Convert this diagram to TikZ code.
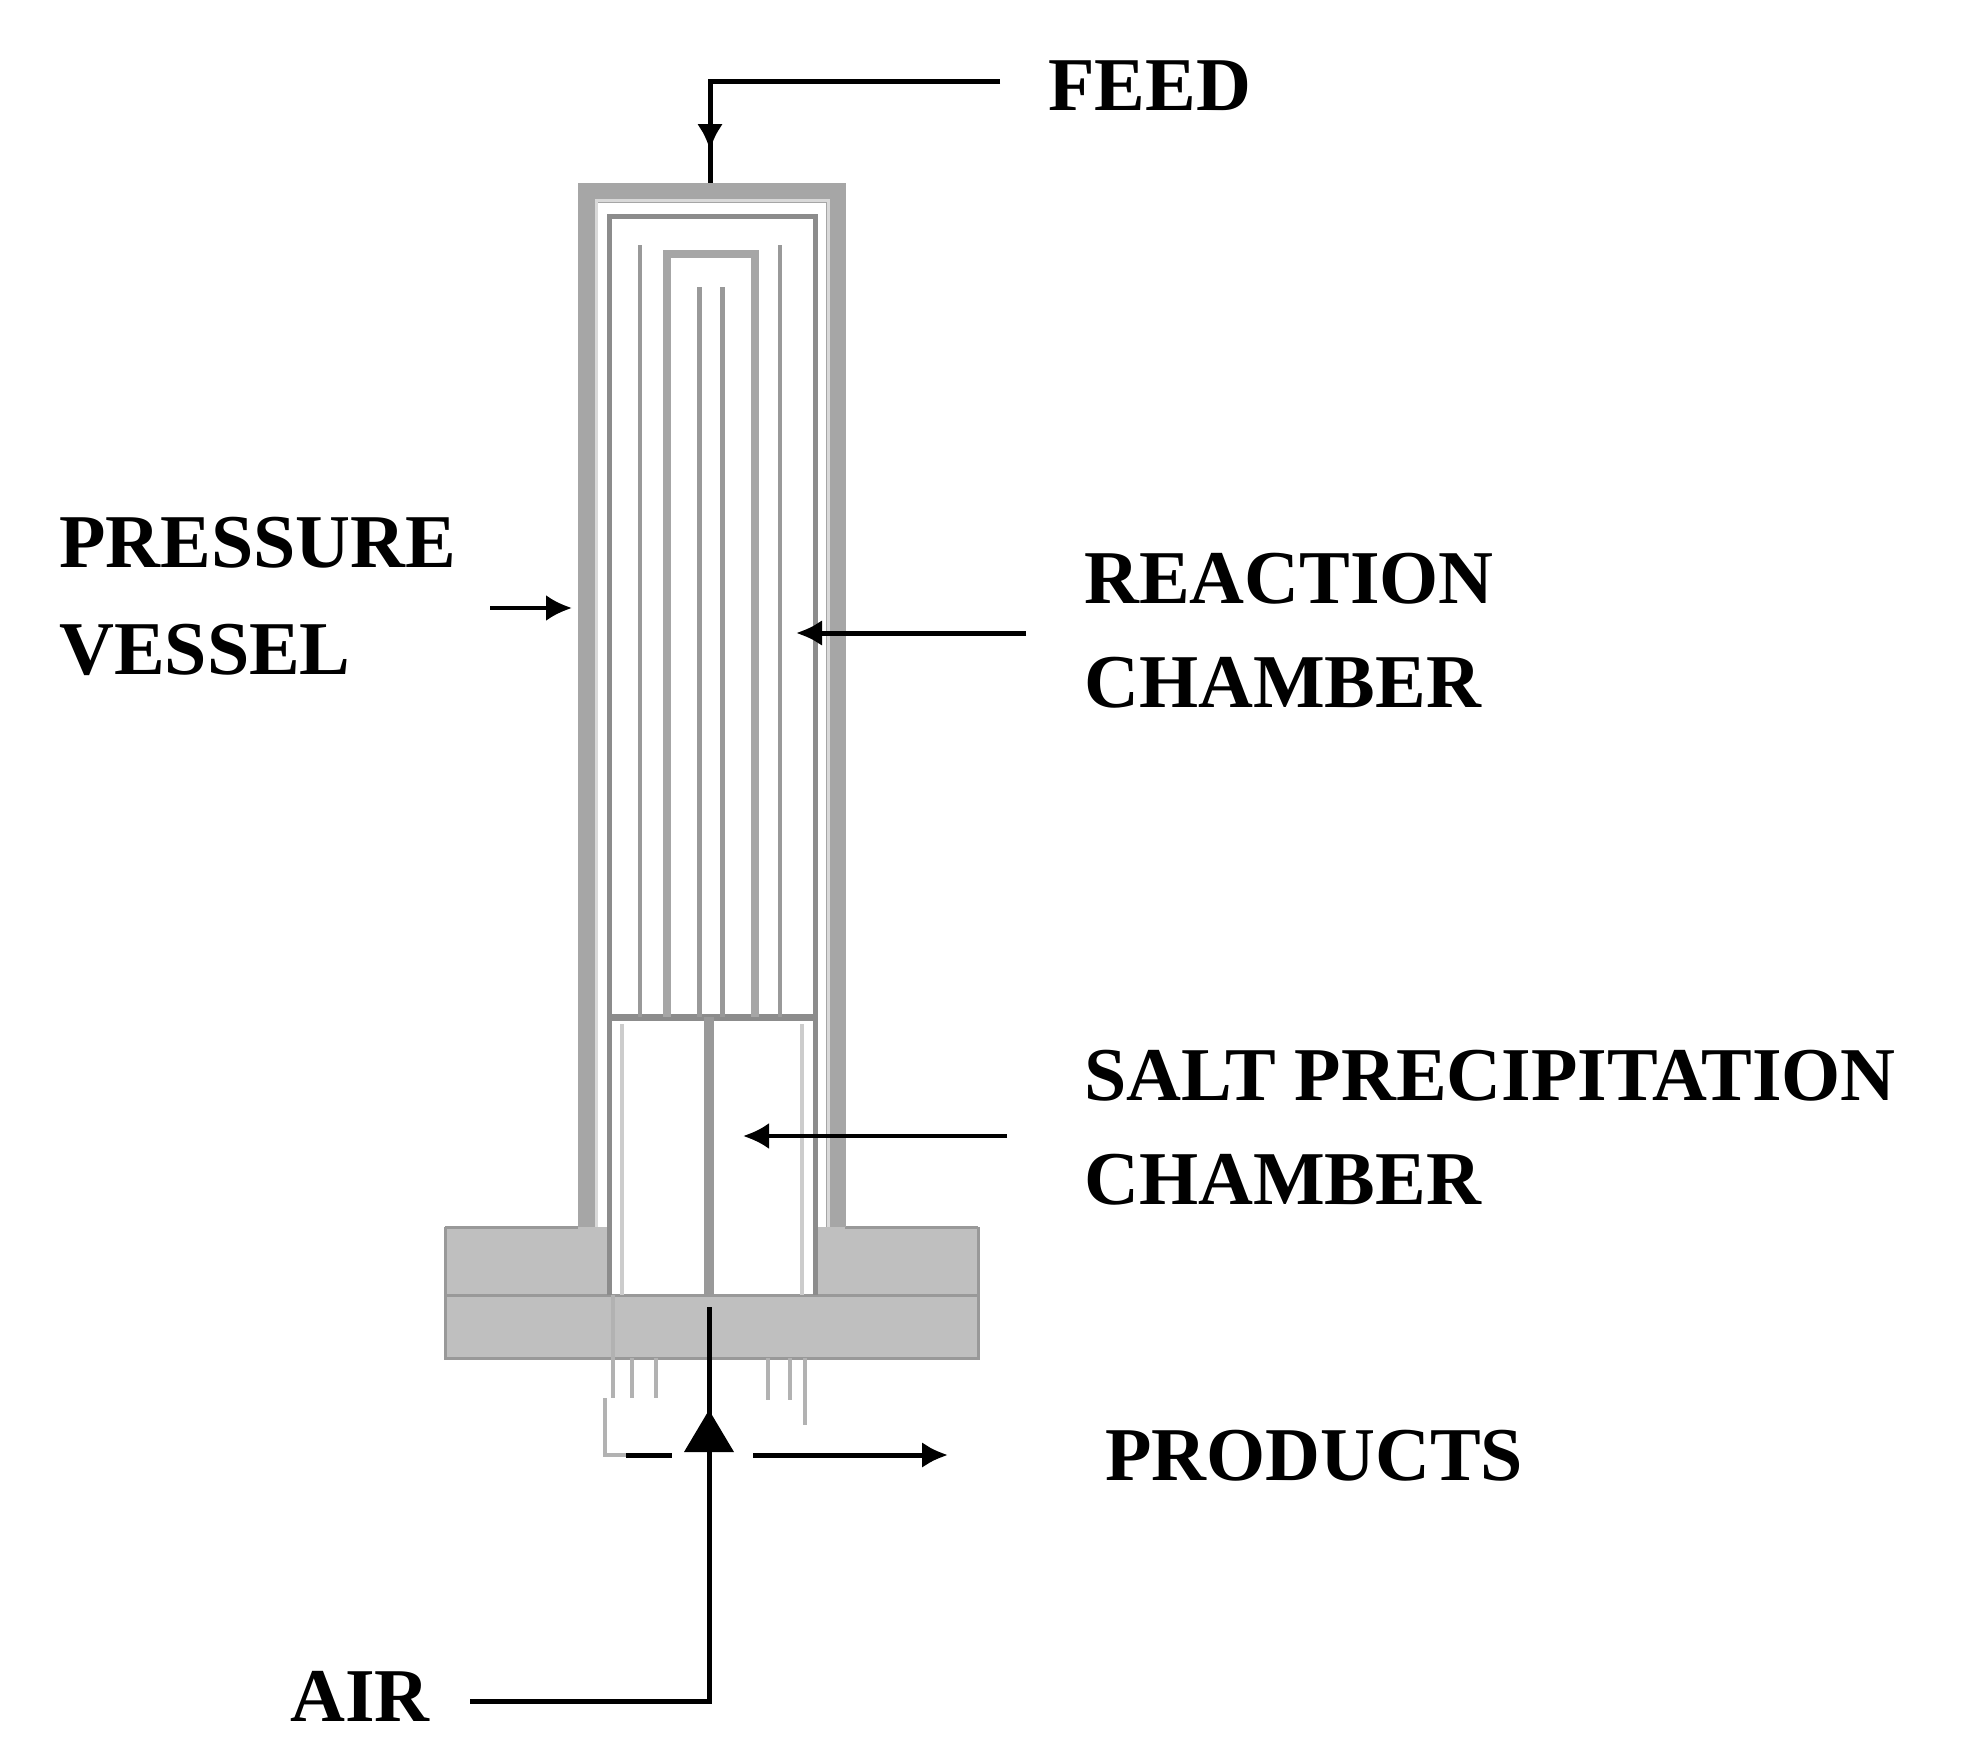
\documentclass[tikz,border=0pt]{standalone}
\usepackage{fontspec}
\setmainfont{Liberation Serif}
\usetikzlibrary{arrows.meta}
\begin{document}
\begin{tikzpicture}[x=1pt,y=-1pt,
  lbl/.style={anchor=west,inner sep=0pt,font=\fontsize{76}{82}\selectfont\bfseries},
  conn/.style={line width=5pt,black},
  arr/.style={conn,-{Latex[length=26pt,width=26pt]}},
  wall/.style={draw=black!40,line width=4pt},
  band/.style={draw=black!35,line width=8pt}]
\useasboundingbox (0,0) rectangle (1971,1761);
% flange
\fill[black!25] (445,1227) rectangle (609,1295);
\fill[black!25] (815,1227) rectangle (978,1295);
\fill[black!25] (445,1295) rectangle (978,1358);
\draw[black!40,line width=3pt] (445,1227) -- (578,1227) (845,1227) -- (978,1227)
  (445,1227) -- (445,1358) -- (978,1358) -- (978,1227) (445,1295) -- (978,1295);
% outer pressure vessel
\draw[black!35,line width=20pt,line join=miter] (588,1227) -- (588,193) -- (836,193) -- (836,1227);
\draw[black!15,line width=3pt] (596,1227) -- (596,200) -- (828,200) -- (828,1227);
% reaction chamber wall
\draw[black!45,line width=5pt] (609,1295) -- (609,216) -- (815,216) -- (815,1295);
\draw[black!20,line width=4pt] (622,1295) -- (622,1024) (802,1295) -- (802,1024);
\draw[black!45,line width=7pt] (609,1017) -- (815,1017);
% inner tubes
\draw[wall] (640,245) -- (640,1017) (780,245) -- (780,1017);
\draw[band] (667,1017) -- (667,254) -- (755,254) -- (755,1017);
\draw[wall,line width=5pt] (699,287) -- (699,1017) (722,287) -- (722,1017);
\draw[black!40,line width=10pt] (709,1017) -- (709,1295);
% stubs below flange
\draw[black!30,line width=4pt] (613,1295) -- (613,1398) (632,1358) -- (632,1398) (656,1358) -- (656,1398)
  (768,1358) -- (768,1400) (790,1358) -- (790,1400) (805,1358) -- (805,1425);
\draw[black!30,line width=4pt] (605,1398) -- (605,1455) -- (626,1455);
% labels
\node[lbl] (feed) at (1048,86) {FEED};
\node[lbl] (pv1) at (59,543) {PRESSURE};
\node[lbl] (pv2) at (59,650) {VESSEL};
\node[lbl] (rc1) at (1084,579) {REACTION};
\node[lbl] (rc2) at (1084,683) {CHAMBER};
\node[lbl] (sp1) at (1084,1076) {SALT PRECIPITATION};
\node[lbl] (sp2) at (1084,1180) {CHAMBER};
\node[lbl] (prod) at (1105,1456) {PRODUCTS};
\node[lbl] (air) at (290,1696) {AIR};
% connectors
\coordinate (f0) at (1000,82);
\coordinate (f1) at (710,82);
\coordinate (f2) at (710,150);
\coordinate (f3) at (710,183);
\draw[conn] (f0) -- (f1) -- (f3);
\draw[arr] (f1) -- (f2);
\coordinate (pva) at (490,608); \coordinate (pvb) at (572,608);
\draw[arr,line width=4pt] (pva) -- (pvb);
\coordinate (rca) at (1026,633); \coordinate (rcb) at (796,633);
\draw[arr] (rca) -- (rcb);
\coordinate (spa) at (1007,1136); \coordinate (spb) at (743,1136);
\draw[arr,line width=4pt] (spa) -- (spb);
\coordinate (p0) at (626,1455); \coordinate (p1) at (672,1455);
\draw[conn] (p0) -- (p1);
\coordinate (pa) at (753,1455); \coordinate (pb) at (948,1455);
\draw[arr] (pa) -- (pb);
\coordinate (a0) at (470,1701); \coordinate (a1) at (709,1701); \coordinate (a2) at (709,1307);
\draw[conn] (a0) -- (a1) -- (a2);
\fill[black] (709,1410) -- (734,1452) -- (684,1452) -- cycle;
\end{tikzpicture}
\end{document}
